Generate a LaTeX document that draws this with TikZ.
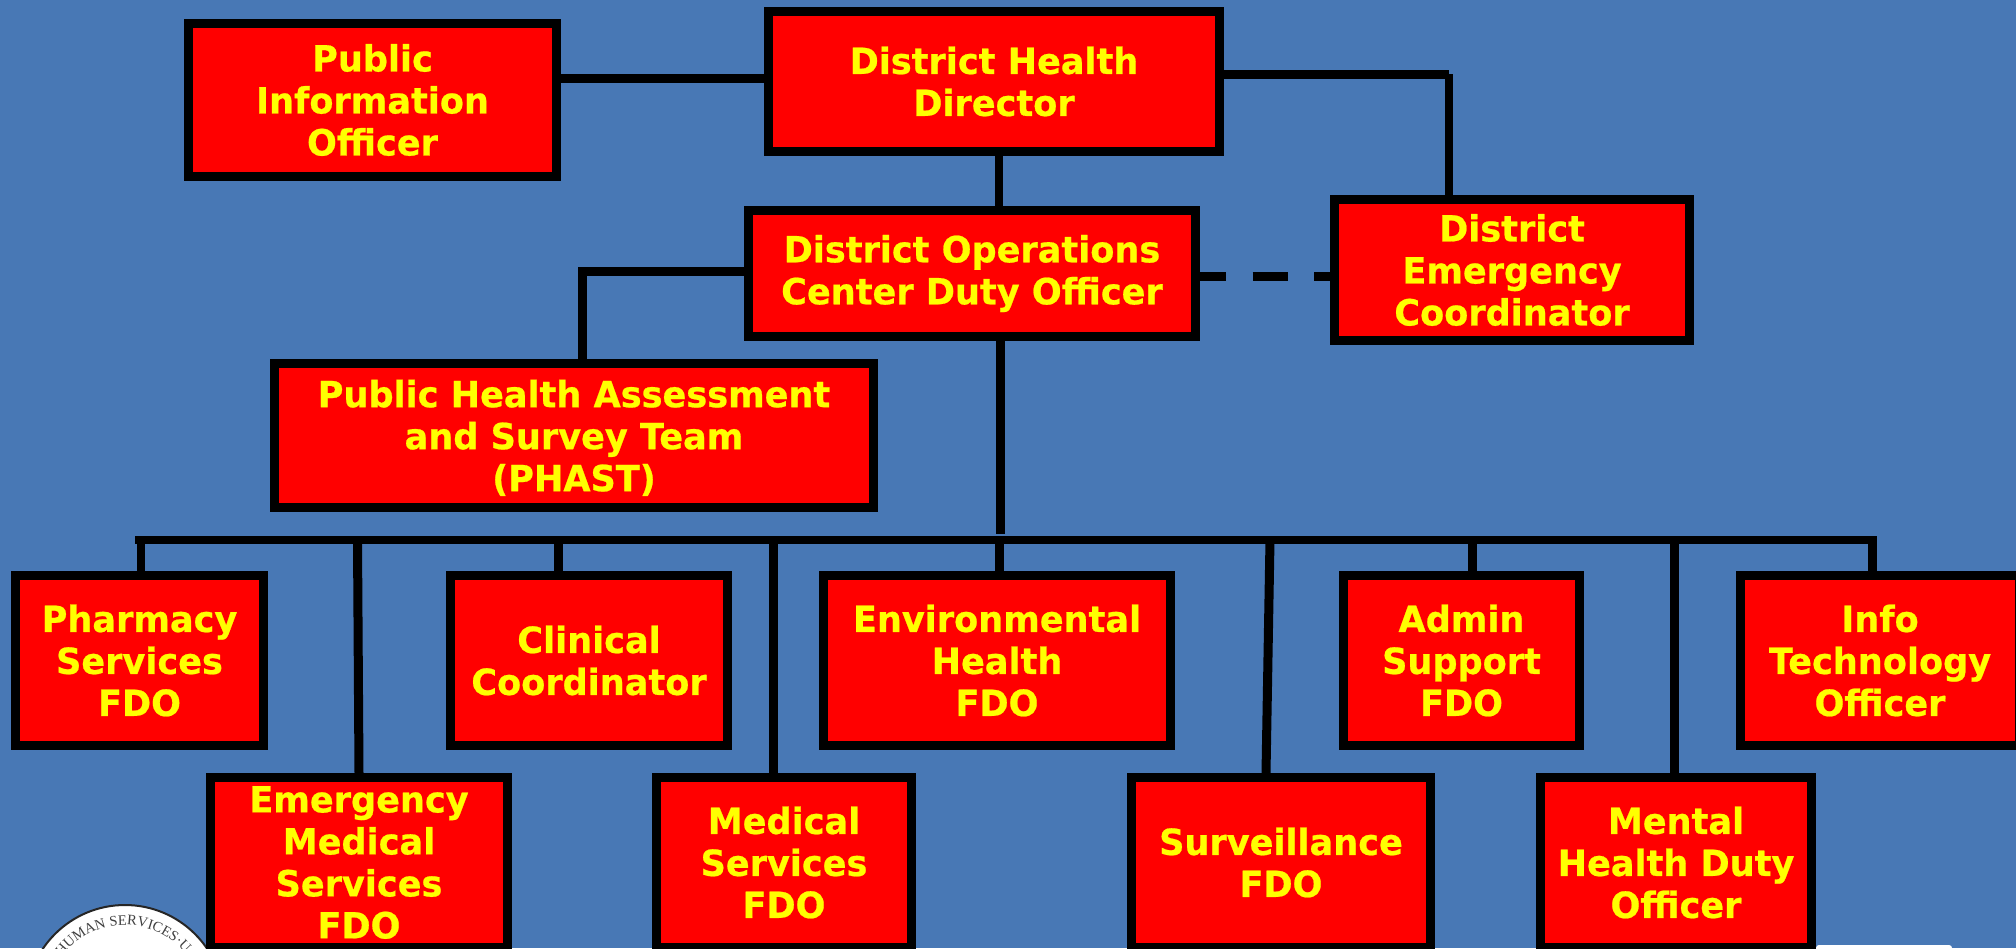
\documentclass[tikz,border=0pt]{standalone}
\usepackage{fontspec}
\setmainfont{DejaVu Sans}
\newfontfamily\boxfont[FakeStretch=0.975,BoldFeatures={FakeBold=0.6}]{DejaVu Sans}
\newfontfamily\sealfont{Liberation Serif}
\usetikzlibrary{decorations.text}
\definecolor{bgblue}{HTML}{4878B5}
\definecolor{boxred}{HTML}{FF0000}
\definecolor{boxyellow}{HTML}{FFFF00}
\tikzset{
  orgbox/.style={draw=black,line width=9pt,fill=boxred,text=boxyellow,align=center,
    inner sep=0pt,outer sep=4.5pt,
    font=\boxfont\fontsize{36}{42}\selectfont\bfseries},
  link/.style={draw=black,line width=8pt,line cap=butt},
  linkwide/.style={draw=black,line width=9pt,line cap=butt},
}
% \orgnode{name}{x1}{y1}{x2}{y2}{text}: outer edges of the box, in pixels
\newcommand{\orgnode}[6]{%
  \pgfmathsetmacro{\ow}{#4-#2-9}\pgfmathsetmacro{\oh}{#5-#3-9}%
  \node[orgbox,minimum width=\ow pt,minimum height=\oh pt] (#1) at ({(#2+#4)/2},{(#3+#5)/2}) {#6};}
\begin{document}
\begin{tikzpicture}[x=1pt,y=-1pt]
\useasboundingbox (0,0) rectangle (2016,948);
\clip (0,0) rectangle (2016,948);
\fill[bgblue] (0,0) rectangle (2016,948);

% seal and white strip at the bottom edge
\fill[white,draw=black!85,line width=2pt] (125,1004) circle[radius=99pt];
\path[decorate,decoration={text along path,text align=center,
   text={|\sealfont\fontsize{14.5}{14.5}\selectfont\color{black!75}|HUMAN SERVICES·USA}}]
   (125pt-64.7pt,-1004pt+45.3pt) arc[start angle=145,end angle=25,radius=79pt];
\fill[white,rounded corners=3pt] (1816,945) rectangle (1952,960);

% boxes
\orgnode{pio}{184}{19}{561}{181}{Public\\Information\\Officer}
\orgnode{dhd}{764}{7}{1224}{156}{District Health\\Director}
\orgnode{doc}{744}{206}{1200}{341}{District Operations\\Center Duty Officer}
\orgnode{dec}{1330}{195}{1694}{345}{District\\Emergency\\Coordinator}
\orgnode{phast}{270}{359}{878}{512}{Public Health Assessment\\and Survey Team\\\smash{(PHAST)}}

\orgnode{pharm}{11}{571}{268}{750}{Pharmacy\\Services\\FDO}
\orgnode{clin}{446}{571}{732}{750}{Clinical\\Coordinator}
\orgnode{env}{819}{571}{1175}{750}{Environmental\\Health\\FDO}
\orgnode{admin}{1339}{571}{1584}{750}{Admin\\Support\\FDO}
\orgnode{info}{1736}{571}{2024}{750}{Info\\Technology\\Officer}

\orgnode{ems}{206}{773}{512}{952}{Emergency\\Medical\\Services\\FDO}
\orgnode{med}{652}{773}{916}{952}{Medical\\Services\\FDO}
\orgnode{surv}{1127}{773}{1435}{952}{Surveillance\\FDO}
\orgnode{ment}{1536}{773}{1816}{952}{Mental\\Health Duty\\Officer}

% free ends and corners of the connectors
\coordinate (bus-l) at (135,540);
\coordinate (bus-r) at (1877,540);
\coordinate (bus-in) at (1000,534);
\coordinate (c-dec) at (1449,74.5);
\coordinate (c-phast) at (582.5,271.5);

% top connectors
\draw[linkwide] (pio.east |- 0,78) -- (dhd.west |- 0,78);
\draw[linkwide] (dhd.east |- c-dec) -- (c-dec);
\draw[link] (1449,74) -- (dec.north -| c-dec);
\draw[link] (dhd.south -| 999,0) -- (doc.north -| 999,0);
\draw[linkwide,dash pattern=on 35pt off 26.5pt,dash phase=9pt] (doc.east |- 0,276) -- (dec.west |- 0,276);
\draw[linkwide] (doc.west |- c-phast) -- (578,271.5);
\draw[link,line width=9pt] (c-phast) -- (phast.north -| c-phast);
\draw[link,line width=9pt] (doc.south -| bus-in) -- (bus-in);

% bus and drops
\draw[link] (bus-l) -- (bus-r);
\draw[link] (140.5,540) -- (pharm.north -| 140.5,0);
\draw[link,line width=9pt] (357.5,540) -- (359,773);
\draw[link,line width=9pt] (558,540) -- (clin.north -| 558,0);
\draw[link,line width=9pt] (773,540) -- (med.north -| 773,0);
\draw[link,line width=9pt] (999.5,540) -- (env.north -| 999.5,0);
\draw[link,line width=9pt] (1270,540) -- (1266,773);
\draw[link,line width=9pt] (1472.5,540) -- (admin.north -| 1472.5,0);
\draw[link,line width=9pt] (1674.5,540) -- (ment.north -| 1674.5,0);
\draw[link,line width=9pt] (1872.5,536) -- (info.north -| 1872.5,0);
\end{tikzpicture}
\end{document}
